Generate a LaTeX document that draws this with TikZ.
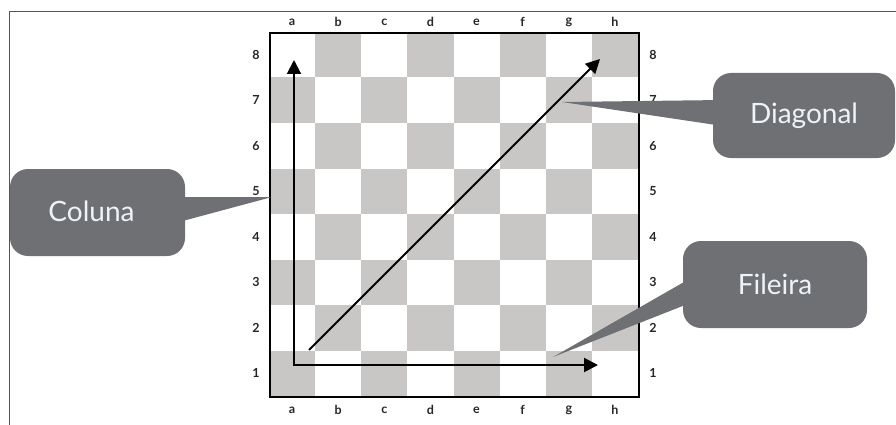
\documentclass[tikz,border=0pt]{standalone}
\usepackage{fontspec}
\setmainfont{Lato}
\usetikzlibrary{arrows.meta,calc}
\definecolor{sqdark}{HTML}{C8C7C5}
\definecolor{calloutgray}{HTML}{6F7074}
\definecolor{callouttext}{HTML}{EEF3F8}
\definecolor{framegray}{HTML}{555555}
\begin{document}
\begin{tikzpicture}[x=1pt,y=-1pt,
  coordlabel/.style={font=\fontsize{12.5}{12.5}\selectfont\bfseries, inner sep=0pt, text=black!85},
  calloutbox/.style={fill=calloutgray, rounded corners=18pt, text=callouttext, font=\fontsize{28}{28}\selectfont, inner sep=0pt},
  wedge/.style={fill=calloutgray},
  movearrow/.style={line width=2pt, line cap=rect, -{Triangle[length=14pt,width=14pt]}},
  boardframe/.style={draw, line width=1.8pt, inner sep=0pt, minimum width=369pt, minimum height=364pt, anchor=north west}
]
\useasboundingbox (0,0) rectangle (896,425);
\draw[framegray, line width=1pt] (9,425) -- (9,12) -- (896,12);
% squares
\foreach \c in {0,...,7}{
  \foreach \r in {0,...,7}{
    \pgfmathtruncatemacro\s{mod(\c+\r,2)}
    \ifnum\s=0
      \fill[sqdark] (269+\c*46.125, 396-\r*45.5) rectangle (269+\c*46.125+46.125, 396-\r*45.5-45.5);
    \fi
  }
}
\node[boardframe] (board) at (269,32) {};
% labels
\foreach \l [count=\i from 0] in {a,b,c,d,e,f,g,h}{
  \node[coordlabel] (top\l) at (292.06+\i*46.125, 22) {\l};
  \node[coordlabel] (bot\l) at (292.06+\i*46.125, 410) {\l};
}
\foreach \n in {1,...,8}{
  \node[coordlabel] (left\n) at (256, 396-\n*45.5+22.75) {\n};
  \node[coordlabel] (right\n) at (653, 396-\n*45.5+22.75) {\n};
}
% arrows
\coordinate (colstart) at (294,365);
\coordinate (coltip) at (294,60);
\coordinate (rowtip) at (598,365);
\coordinate (diagstart) at (309,350);
\coordinate (diagtip) at (600,59);
\draw[movearrow] (colstart) -- (coltip);
\draw[movearrow] (colstart) -- (rowtip);
\draw[line width=2pt, -{Triangle[length=14pt,width=14pt]}] (diagstart) -- (diagtip);
% callouts
\node[calloutbox, minimum width=175pt, minimum height=87pt] (coluna) at (97.5,212.5) {\hspace*{-12pt}\raisebox{3pt}{Coluna}};
\coordinate (colunatip) at (272,197);
\fill[wedge] ($(coluna.east)+(-10,-15.5)$) -- (colunatip) -- ($(coluna.east)+(-10,10.5)$) -- cycle;

\node[calloutbox, minimum width=182pt, minimum height=85pt] (diagonal) at (804,115.5) {Diagonal};
\coordinate (diagonaltip) at (562,102);
\fill[wedge] ($(diagonal.west)+(10,-15.5)$) -- (diagonaltip) -- ($(diagonal.west)+(10,10.5)$) -- cycle;

\node[calloutbox, minimum width=184pt, minimum height=87pt] (fileira) at (775,284.5) {Fileira};
\coordinate (fileiratip) at (553,357);
\fill[wedge] ($(fileira.west)+(10,-7.5)$) -- (fileiratip) -- ($(fileira.west)+(10,17.5)$) -- cycle;
\end{tikzpicture}
\end{document}
